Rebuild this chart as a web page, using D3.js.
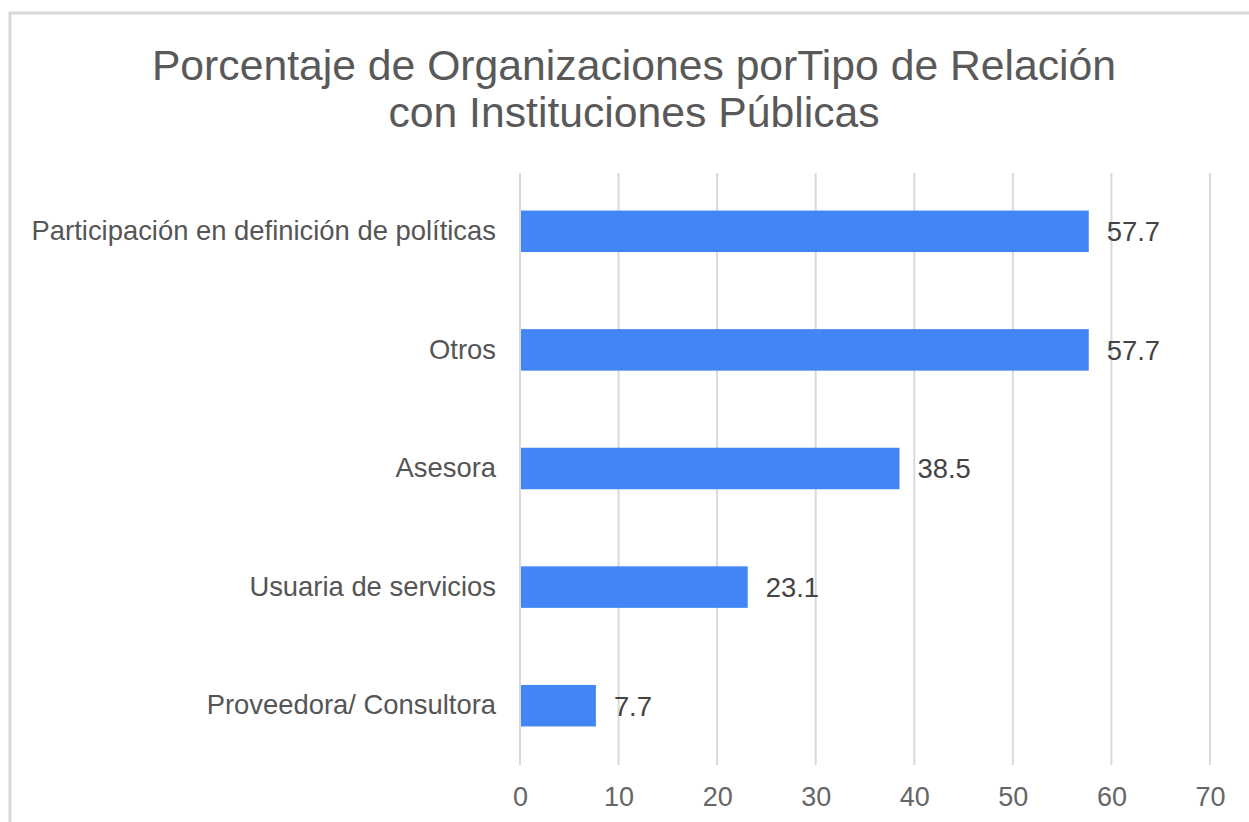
<!DOCTYPE html>
<html>
<head>
<meta charset="utf-8">
<script src="https://cdn.jsdelivr.net/npm/d3@7"></script>
<style>
  html, body { margin: 0; padding: 0; background: #fff; }
  svg { display: block; font-family: "Liberation Sans", Arial, sans-serif; }
</style>
</head>
<body>
<svg id="chart" width="1249" height="822"></svg>
<script>
const titleLines = ["Porcentaje de Organizaciones porTipo de Relación", "con Instituciones Públicas"];
const categories = ["Participación en definición de políticas", "Otros", "Asesora", "Usuaria de servicios", "Proveedora/ Consultora"];
const values = [57.7, 57.7, 38.5, 23.1, 7.7];
const tickValues = [0, 10, 20, 30, 40, 50, 60, 70];

const svg = d3.select("#chart");

// chart border (top/left visible)
svg.append("rect").attr("x", 10).attr("y", 13).attr("width", 1260).attr("height", 840)
  .attr("fill", "#fff").attr("stroke", "#d9d9d9").attr("stroke-width", 3);

const x = d3.scaleLinear().domain([0, 70]).range([520, 1210]);
const y = d3.scaleBand().domain(categories).range([172, 765]).paddingInner(0.65).paddingOuter(0.325);

// title
svg.append("text").attr("x", 634).attr("y", 80).attr("text-anchor", "middle")
  .attr("font-size", 42.7).attr("fill", "#595959")
  .selectAll("tspan").data(titleLines).join("tspan")
  .attr("x", 634).attr("dy", (d, i) => i === 0 ? 0 : 47).text(d => d);

// gridlines
svg.append("g").selectAll("line").data(tickValues).join("line")
  .attr("x1", d => x(d)).attr("x2", d => x(d))
  .attr("y1", 173).attr("y2", 765)
  .attr("stroke", "#d9d9d9").attr("stroke-width", 2);

// x axis labels
const xAxis = d3.axisBottom(x).tickValues(tickValues).tickSize(0).tickPadding(0);
const gx = svg.append("g").attr("transform", "translate(0,787)").call(xAxis);
gx.select(".domain").remove();
gx.selectAll("text").attr("font-size", 27).attr("fill", "#666")
  .attr("font-family", "Liberation Sans, Arial, sans-serif").attr("dy", "0.71em");

// y axis labels
const yAxis = d3.axisLeft(y).tickSize(0).tickPadding(0);
const gy = svg.append("g").attr("transform", "translate(496,0)").call(yAxis);
gy.select(".domain").remove();
gy.selectAll("text").attr("font-size", 27.4).attr("fill", "#555")
  .attr("font-family", "Liberation Sans, Arial, sans-serif");

// bars
svg.append("g").selectAll("rect").data(values).join("rect")
  .attr("x", x(0) + 1).attr("y", (d, i) => y(categories[i]))
  .attr("width", d => x(d) - x(0) - 1).attr("height", y.bandwidth())
  .attr("fill", "#4285f4");

// value labels
svg.append("g").selectAll("text").data(values).join("text")
  .attr("x", d => x(d) + 18).attr("y", (d, i) => y(categories[i]) + y.bandwidth() / 2)
  .attr("dy", "0.36em").attr("font-size", 27.4).attr("fill", "#444")
  .text(d => d.toFixed(1));
</script>
</body>
</html>
